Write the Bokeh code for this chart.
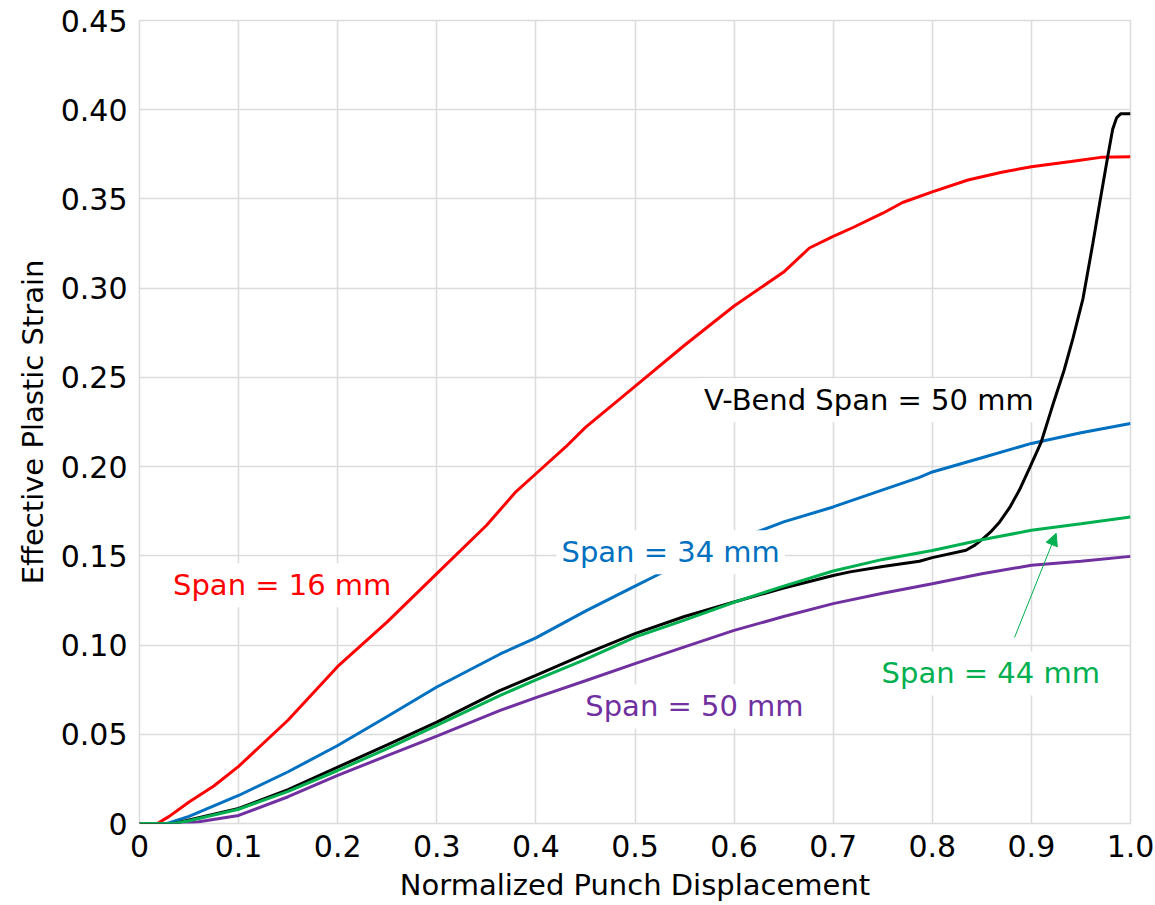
from bokeh.plotting import figure
from bokeh.models import Label, Arrow, NormalHead, FixedTicker, CustomJSTickFormatter
from bokeh.embed import file_html
from bokeh.resources import INLINE

# ---- data ----
x_ticks = [0, 0.1, 0.2, 0.3, 0.4, 0.5, 0.6, 0.7, 0.8, 0.9, 1.0]
x_tick_labels = ["0", "0.1", "0.2", "0.3", "0.4", "0.5", "0.6", "0.7", "0.8", "0.9", "1.0"]
y_ticks = [0, 0.05, 0.10, 0.15, 0.20, 0.25, 0.30, 0.35, 0.40, 0.45]
y_tick_labels = ["0", "0.05", "0.10", "0.15", "0.20", "0.25", "0.30", "0.35", "0.40", "0.45"]

red_x = [0, 0.018, 0.03, 0.05, 0.075, 0.1, 0.15, 0.2, 0.25, 0.3, 0.35, 0.38, 0.4, 0.43, 0.45,
         0.5, 0.55, 0.6, 0.65, 0.676, 0.7, 0.72, 0.75, 0.77, 0.8, 0.836, 0.87, 0.9, 0.94, 0.97, 1.0]
red_y = [0, 0, 0.004, 0.012, 0.021, 0.032, 0.058, 0.088, 0.113, 0.140, 0.167, 0.186, 0.196, 0.211, 0.222,
         0.245, 0.268, 0.290, 0.309, 0.3225, 0.329, 0.334, 0.342, 0.348, 0.354, 0.3606, 0.365, 0.368, 0.371, 0.3733, 0.3737]

blue_x = [0, 0.028, 0.05, 0.1, 0.15, 0.2, 0.25, 0.3, 0.364, 0.4, 0.45, 0.5, 0.518, 0.55, 0.6, 0.619,
          0.65, 0.7, 0.75, 0.787, 0.8, 0.85, 0.9, 0.95, 1.0]
blue_y = [0, 0, 0.004, 0.0157, 0.029, 0.0437, 0.060, 0.0765, 0.095, 0.104, 0.119, 0.133, 0.138, 0.147, 0.158, 0.1625,
          0.169, 0.1774, 0.187, 0.194, 0.197, 0.205, 0.213, 0.219, 0.2242]

black_x = [0, 0.035, 0.05, 0.1, 0.15, 0.2, 0.25, 0.3, 0.364, 0.4, 0.45, 0.5, 0.55, 0.6, 0.65, 0.7, 0.717,
           0.75, 0.787, 0.8, 0.834, 0.843, 0.851, 0.86, 0.868, 0.878, 0.888, 0.898, 0.91, 0.921, 0.933, 0.942, 0.952,
           0.962, 0.969, 0.977, 0.982, 0.986, 0.99, 1.0]
black_y = [0, 0, 0.002, 0.0084, 0.019, 0.0316, 0.044, 0.0568, 0.0746, 0.083, 0.095, 0.1064, 0.116, 0.1241, 0.132, 0.139, 0.141,
           0.144, 0.147, 0.149, 0.1531, 0.156, 0.1595, 0.164, 0.169, 0.177, 0.187, 0.199, 0.2139, 0.2335, 0.254, 0.272, 0.294,
           0.325, 0.348, 0.3737, 0.389, 0.3955, 0.3977, 0.3977]

green_x = [0, 0.035, 0.05, 0.1, 0.15, 0.2, 0.25, 0.3, 0.364, 0.4, 0.45, 0.5, 0.55, 0.6, 0.65, 0.7, 0.75,
           0.8, 0.85, 0.9, 0.95, 1.0]
green_y = [0, 0, 0.0015, 0.008, 0.018, 0.0297, 0.042, 0.055, 0.0718, 0.0805, 0.092, 0.1045, 0.114, 0.124, 0.133, 0.1415, 0.148,
           0.153, 0.159, 0.1643, 0.168, 0.1718]

purple_x = [0, 0.045, 0.06, 0.1, 0.15, 0.2, 0.25, 0.3, 0.364, 0.4, 0.45, 0.5, 0.55, 0.6, 0.65, 0.7, 0.75,
            0.8, 0.85, 0.9, 0.95, 1.0]
purple_y = [0, 0, 0.001, 0.0045, 0.015, 0.027, 0.038, 0.049, 0.0634, 0.0705, 0.080, 0.0896, 0.099, 0.1082, 0.116, 0.1232, 0.129,
            0.1344, 0.140, 0.1447, 0.147, 0.1497]

FONT = "DejaVu Sans"
FS = "29px"

p = figure(width=1155, height=905, x_range=(0, 1), y_range=(0, 0.45),
           output_backend="svg", toolbar_location=None,
           min_border_left=139, min_border_right=25, min_border_top=20, min_border_bottom=82,
           x_axis_label="Normalized Punch Displacement", y_axis_label="Effective Plastic Strain")
p.outline_line_color = "#dcdcdc"
p.outline_line_width = 1.6
p.background_fill_color = "white"
p.border_fill_color = "white"

p.xaxis.ticker = FixedTicker(ticks=x_ticks)
p.yaxis.ticker = FixedTicker(ticks=y_ticks)
p.xgrid.ticker = FixedTicker(ticks=x_ticks)
p.ygrid.ticker = FixedTicker(ticks=y_ticks)
p.xaxis.formatter = CustomJSTickFormatter(args=dict(labels=x_tick_labels), code="return labels[index];")
p.yaxis.formatter = CustomJSTickFormatter(args=dict(labels=y_tick_labels), code="return labels[index];")

p.grid.grid_line_color = "#dcdcdc"
p.grid.grid_line_width = 1.6
p.axis.axis_line_color = None
p.axis.major_tick_line_color = None
p.axis.minor_tick_line_color = None
p.axis.major_tick_out = 0
p.axis.major_tick_in = 0
p.axis.major_label_text_font = FONT
p.axis.major_label_text_font_size = "30px"
p.axis.major_label_text_color = "black"
p.axis.axis_label_text_font = FONT
p.axis.axis_label_text_font_size = FS
p.axis.axis_label_text_font_style = "normal"
p.axis.axis_label_text_color = "black"
p.xaxis.major_label_standoff = 11
p.xaxis.axis_label_standoff = 8
p.yaxis.major_label_standoff = 12
p.yaxis.axis_label_standoff = 8

LW = 3
p.line(purple_x, purple_y, line_color="#7030A0", line_width=LW)
p.line(blue_x, blue_y, line_color="#0070C0", line_width=LW)
p.line(red_x, red_y, line_color="#FF0000", line_width=LW)
p.line(black_x, black_y, line_color="#000000", line_width=LW)
p.line(green_x, green_y, line_color="#00B050", line_width=LW)

p.add_layout(Arrow(end=NormalHead(size=12, fill_color="#00B050", line_color="#00B050"),
                   x_start=0.883, y_start=0.1043, x_end=0.925, y_end=0.1626,
                   line_color="#00B050", line_width=1))

labels = [
    ("Span = 16 mm", 0.144, 0.1335, "#FF0000"),
    ("Span = 34 mm", 0.536, 0.152, "#0070C0"),
    ("Span = 50 mm", 0.560, 0.0656, "#7030A0"),
    ("Span = 44 mm", 0.859, 0.0841, "#00B050"),
    ("V-Bend Span = 50 mm", 0.736, 0.2372, "#000000"),
]
for txt, lx, ly, col in labels:
    p.add_layout(Label(x=lx, y=ly, text=txt, text_color=col, text_font=FONT, text_font_size=FS,
                       text_align="center", text_baseline="middle",
                       background_fill_color="white", padding=5))

open("out.html", "w").write(file_html(p, INLINE))
